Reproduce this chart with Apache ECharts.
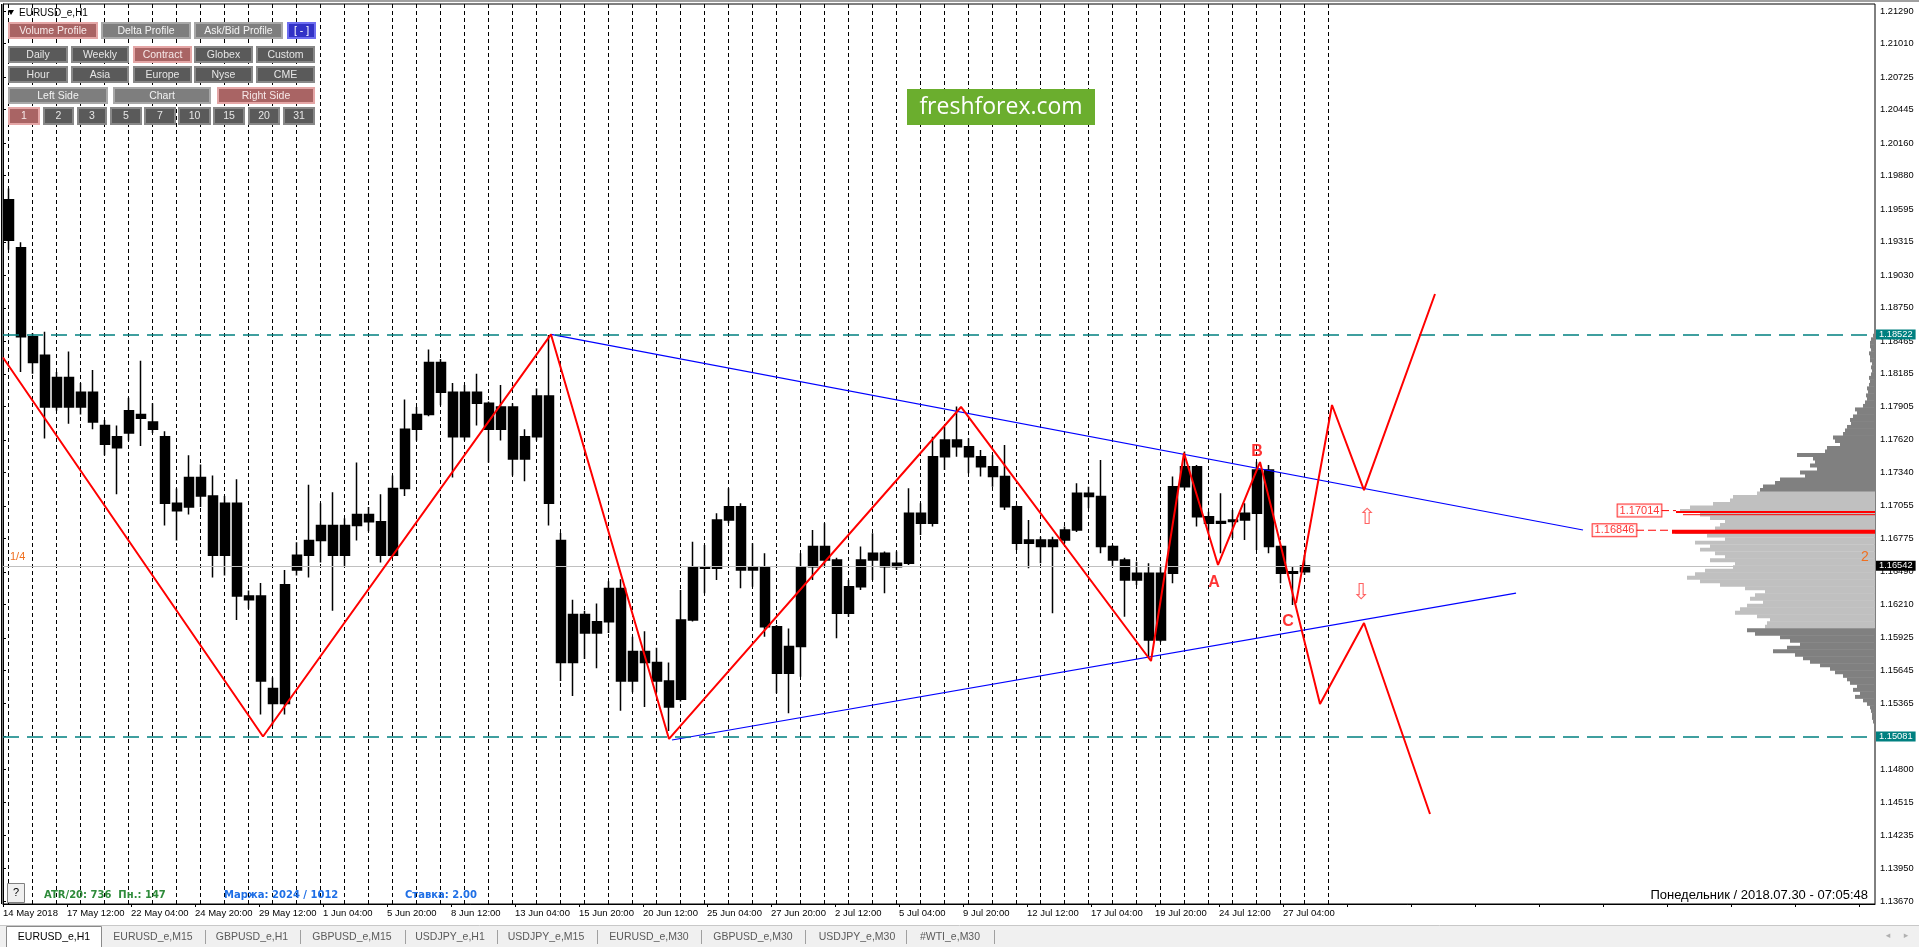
<!DOCTYPE html>
<html><head><meta charset="utf-8">
<script src="https://cdn.jsdelivr.net/npm/echarts@6/dist/echarts.min.js"></script>
<style>html,body{margin:0;padding:0;background:#fff;}#c{width:1919px;height:947px;}</style>
</head><body><div id="c"></div>
<script>
// ---------- DATA ----------
// H1 price, aggregated in groups of 12 bars (one candle per group)
const opens = [1.19675,1.19263,1.18502,1.18344,1.17900,1.18154,1.17900,1.18027,1.17742,1.17552,
1.17678,1.17837,1.17773,1.17647,1.17076,1.17044,1.17298,1.17139,1.16632,1.17076,
1.16283,1.16283,1.15491,1.15364,1.16505,1.16632,1.16759,1.16886,1.16632,1.16886,
1.16981,1.16918,1.16632,1.17203,1.17710,1.17837,1.18281,1.18027,1.17647,1.18027,
1.17932,1.17710,1.17900,1.17456,1.17647,1.17995,1.16759,1.15713,1.16125,1.15967,
1.16062,1.16347,1.15555,1.15808,1.15713,1.15555,1.15400,1.16078,1.16534,1.16520,
1.16934,1.17048,1.16506,1.16534,1.16021,1.15621,1.15850,1.16534,1.16706,1.16591,
1.16135,1.16363,1.16591,1.16648,1.16534,1.16563,1.16991,1.16905,1.17476,1.17619,
1.17561,1.17476,1.17390,1.17305,1.17048,1.16734,1.16763,1.16706,1.16763,1.16848,
1.17162,1.17134,1.16706,1.16591,1.16420,1.16477,1.15907,1.16477,1.17219,1.17390,
1.16962,1.16905,1.16920,1.16934,1.16991,1.17362,1.16706,1.16477,1.16490];
const closes = [1.19327,1.18502,1.18281,1.17900,1.18154,1.17900,1.18027,1.17773,1.17583,1.17647,
1.17869,1.17805,1.17710,1.17076,1.17013,1.17298,1.17139,1.16632,1.17076,1.16283,
1.16252,1.15555,1.15364,1.16379,1.16632,1.16759,1.16886,1.16632,1.16886,1.16981,
1.16918,1.16632,1.17203,1.17710,1.17837,1.18281,1.18027,1.17647,1.18027,1.17932,
1.17710,1.17900,1.17456,1.17647,1.17995,1.17076,1.15713,1.16125,1.15967,1.16062,
1.16347,1.15555,1.15808,1.15713,1.15555,1.15333,1.16078,1.16534,1.16520,1.16934,
1.17048,1.16506,1.16534,1.16021,1.15621,1.15850,1.16534,1.16706,1.16591,1.16135,
1.16363,1.16591,1.16648,1.16534,1.16563,1.16991,1.16905,1.17476,1.17619,1.17561,
1.17476,1.17390,1.17305,1.17048,1.16734,1.16763,1.16706,1.16763,1.16848,1.17162,
1.17134,1.16706,1.16591,1.16420,1.16477,1.15907,1.16477,1.17219,1.17390,1.16962,
1.16905,1.16920,1.16934,1.16991,1.17362,1.16706,1.16477,1.16490,1.16542];
const lows = [1.19247,1.18201,1.18186,1.17631,1.17869,1.17758,1.17837,1.17710,1.17488,1.17155,
1.17615,1.17567,1.17678,1.16886,1.16759,1.16981,1.17044,1.16442,1.16458,1.16077,
1.16173,1.15269,1.15174,1.15269,1.16458,1.16442,1.16569,1.16157,1.16537,1.16759,
1.16838,1.16569,1.16616,1.17139,1.17615,1.17821,1.17916,1.17298,1.17615,1.17742,
1.17425,1.17615,1.17314,1.17266,1.17615,1.16886,1.15555,1.15428,1.15745,1.15665,
1.15967,1.15301,1.15459,1.15333,1.15459,1.15127,1.15380,1.16064,1.16306,1.16420,
1.16905,1.16349,1.16363,1.15935,1.15450,1.15279,1.15593,1.16420,1.16534,1.15921,
1.16106,1.16335,1.16420,1.16306,1.16506,1.16549,1.16805,1.16877,1.17362,1.17476,
1.17333,1.17305,1.17219,1.17019,1.16677,1.16520,1.16563,1.16135,1.16734,1.16830,
1.17034,1.16648,1.16534,1.16106,1.16377,1.15750,1.15890,1.16392,1.17191,1.16877,
1.16820,1.16648,1.16777,1.16763,1.16677,1.16648,1.16392,1.16206,1.16463];
const highs = [1.19770,1.19311,1.18534,1.18544,1.18201,1.18376,1.18106,1.18217,1.17789,1.17742,
1.17979,1.18296,1.17932,1.17694,1.17203,1.17488,1.17409,1.17314,1.17139,1.17282,
1.16331,1.16394,1.15586,1.16505,1.16743,1.17235,1.17076,1.17171,1.16949,1.17425,
1.17044,1.17155,1.17314,1.17964,1.17900,1.18392,1.18312,1.18106,1.18090,1.18186,
1.17948,1.18090,1.17932,1.17710,1.18059,1.18518,1.16822,1.16252,1.16157,1.16220,
1.16410,1.16426,1.15935,1.15982,1.15840,1.15713,1.16335,1.16748,1.16720,1.16991,
1.17205,1.17076,1.16734,1.16648,1.16035,1.16006,1.16648,1.16848,1.16905,1.16610,
1.16420,1.16706,1.16820,1.16663,1.16663,1.17205,1.17076,1.17647,1.17733,1.17904,
1.17633,1.17533,1.17490,1.17576,1.17060,1.16934,1.16791,1.16791,1.16877,1.17248,
1.17219,1.17447,1.16720,1.16610,1.16577,1.16563,1.16534,1.17305,1.17519,1.17404,
1.17005,1.17162,1.17019,1.17076,1.17433,1.17404,1.16720,1.16534,1.16634];

const BARS_PER_CANDLE = 12;
const TOTAL_BARS = 1872;            // bars that fit across the chart window
const BARS_PER_LABEL = 64;
const timeLabels = ['14 May 2018','17 May 12:00','22 May 04:00','24 May 20:00','29 May 12:00','1 Jun 04:00',
 '5 Jun 20:00','8 Jun 12:00','13 Jun 04:00','15 Jun 20:00','20 Jun 12:00','25 Jun 04:00','27 Jun 20:00',
 '2 Jul 12:00','5 Jul 04:00','9 Jul 20:00','12 Jul 12:00','17 Jul 04:00','19 Jul 20:00','24 Jul 12:00','27 Jul 04:00'];
const priceTicks = [1.21290,1.21010,1.20725,1.20445,1.20160,1.19880,1.19595,1.19315,1.19030,1.18750,
 1.18465,1.18185,1.17905,1.17620,1.17340,1.17055,1.16775,1.16490,1.16210,1.15925,1.15645,1.15365,
 1.15085,1.14800,1.14515,1.14235,1.13950,1.13670];

// wave zigzag (bar index, price)
const zigzagBars   = [0, 260, 548, 666, 958, 1148, 1181, 1215, 1257, 1317, 1361, 1427];
const zigzagPrices = [1.18324,1.15081,1.18522,1.15060,1.17901,1.15727,1.17507,1.16549,1.17430,1.15359,1.16052,1.14417];
const bullBars   = [1293, 1329, 1361, 1432];
const bullPrices = [1.16222,1.17918,1.17190,1.18868];
const upperTrendBars = [548, 1580];   const upperTrendPrices = [1.18522, 1.16848];
const lowerTrendBars = [669, 1513];   const lowerTrendPrices = [1.15051, 1.16308];
const waveNames = ['A','B','C'];   const waveBars = [1211,1254,1285];  const wavePrices = [1.16394,1.17518,1.16063];
const arrowGlyphs = ['⇧','⇩'];     const arrowBars = [1364,1358];      const arrowPrices = [1.16951,1.16309];

const levelHigh = 1.18522, levelLow = 1.15081, lastPrice = 1.16542;
const pocPrice = 1.16846, secondPrice = 1.17014;

// volume profile (top bin price, bin step, volumes from top to bottom)
const profileTop = 1.1851, profileStep = 0.0003;
const profileVolumes = [2,4,5,5,4,6,5,5,3,4, 3,4,6,5,6,8,7,9,8,10, 12,20,18,22,25,24,28,30,32,42,
 40,35,48,50,78,62,60,65,58,75, 70,95,100,112,115,118,142,145,162,185, 195,175,165,150,155,160,200,168,150,180,
 165,175,160,150,165,140,142,170,180,188, 175,155,130,110,120,125,112,128,135,140,
 118,105,108,110,128,120,95,85,75,88, 102,80,72,65,55,45,40,32,28,25, 18,22,15,20,12,8,5,4,3,3, 2];
const valueAreaHigh = 1.17165, valueAreaLow = 1.15995;

// ---------- CHART ----------
const FONT = 'Liberation Sans, Arial, sans-serif';
const chart = echarts.init(document.getElementById('c'));
const nCats = TOTAL_BARS / BARS_PER_CANDLE;
const cats = Array.from({length: nCats}, (_, i) => String(i));
const candleData = opens.map((o, i) => [o, closes[i], lows[i], highs[i]]);
const pairs = (xs, ys) => xs.map((x, i) => [x, ys[i]]);
const profileData = profileVolumes.map((v, i) => [v, +(profileTop - i * profileStep).toFixed(4)]);

function button(x, y, w, h, label, kind) {
  const pal = {pink:['#a96464','#e4a6a6','#f6e8e8'], light:['#7e7e7e','#a8a8a8','#f2f2f2'],
               dark:['#5a5a5a','#888888','#e6e6e6'], blue:['#3232c6','#6e6ef0','#ffffff']}[kind];
  return [
    {type:'rect', z:100, shape:{x:x+1, y:y+1, width:w-2, height:h-2}, style:{fill:pal[0], stroke:pal[1], lineWidth:2}},
    {type:'text', z:101, x:x+w/2, y:y+h/2+0.5, style:{text:label, fill:pal[2], fontSize:10.5, fontFamily:FONT, align:'center', verticalAlign:'middle'}}
  ];
}
const g = [];
g.push({type:'rect', z:99, shape:{x:0,y:0,width:1919,height:2}, style:{fill:'#a0a0a0'}});
g.push({type:'line', z:99, shape:{x1:1.5,y1:4,x2:1.5,y2:904}, style:{stroke:'#000',lineWidth:1}});
g.push({type:'polygon', z:100, shape:{points:[[8,10],[14,10],[11,15]]}, style:{fill:'#000'}});
g.push({type:'text', z:100, x:19, y:13, style:{text:'EURUSD_e,H1', fill:'#000', fontSize:10, fontFamily:FONT, verticalAlign:'middle'}});
[[8,90,'Volume Profile','pink'],[101,90,'Delta Profile','light'],[194,89,'Ask/Bid Profile','light'],[287,29,'[ - ]','blue']]
  .forEach(b => g.push(...button(b[0],22,b[1],17,b[2],b[3])));
[[8,60,'Daily','dark'],[71,58,'Weekly','dark'],[133,59,'Contract','pink'],[194,59,'Globex','dark'],[256,59,'Custom','dark']]
  .forEach(b => g.push(...button(b[0],46,b[1],17,b[2],b[3])));
[[8,60,'Hour'],[71,58,'Asia'],[133,59,'Europe'],[194,59,'Nyse'],[256,59,'CME']]
  .forEach(b => g.push(...button(b[0],66,b[1],17,b[2],'dark')));
[[8,100,'Left Side','light'],[113,98,'Chart','light'],[217,98,'Right Side','pink']]
  .forEach(b => g.push(...button(b[0],87,b[1],17,b[2],b[3])));
[[8,32,'1','pink'],[43,31,'2','dark'],[77,30,'3','dark'],[110,32,'5','dark'],[144,32,'7','dark'],
 [178,33,'10','dark'],[213,32,'15','dark'],[248,32,'20','dark'],[283,32,'31','dark']]
  .forEach(b => g.push(...button(b[0],107,b[1],18,b[2],b[3])));
// logo
g.push({type:'rect', z:100, shape:{x:907,y:89,width:188,height:36}, style:{fill:'#6bae2e'}});
g.push({type:'text', z:101, x:1001, y:107, style:{text:'freshforex.com', fill:'#fff', fontSize:23, fontFamily:'Open Sans, Liberation Sans, sans-serif', align:'center', verticalAlign:'middle'}});
// markers on edges
g.push({type:'text', z:100, x:10, y:557, style:{text:'1/4', fill:'#f07020', fontSize:11, fontFamily:FONT, verticalAlign:'middle'}});
g.push({type:'text', z:100, x:1865, y:557, style:{text:'2', fill:'#f07020', fontSize:14, fontFamily:FONT, align:'center', verticalAlign:'middle'}});
// status line
g.push({type:'rect', z:100, shape:{x:7.5,y:883.5,width:17,height:19}, style:{fill:'#f0f0f0', stroke:'#808080', lineWidth:1}});
g.push({type:'text', z:101, x:16, y:893, style:{text:'?', fill:'#000', fontSize:11, fontFamily:FONT, align:'center', verticalAlign:'middle'}});
g.push({type:'text', z:100, x:44, y:895, style:{text:'ATR/20: 736  Пн.: 147', fill:'#2e8b3a', fontSize:10, fontWeight:'bold', fontFamily:'DejaVu Sans, sans-serif', verticalAlign:'middle'}});
g.push({type:'text', z:100, x:224, y:895, style:{text:'Маржа: 2024 / 1012', fill:'#1f6fe6', fontSize:10, fontWeight:'bold', fontFamily:'DejaVu Sans, sans-serif', verticalAlign:'middle'}});
g.push({type:'text', z:100, x:405, y:895, style:{text:'Ставка: 2.00', fill:'#1f6fe6', fontSize:10, fontWeight:'bold', fontFamily:'DejaVu Sans, sans-serif', verticalAlign:'middle'}});
g.push({type:'text', z:100, x:1868, y:895, style:{text:'Понедельник / 2018.07.30 - 07:05:48', fill:'#000', fontSize:13, fontFamily:FONT, align:'right', verticalAlign:'middle'}});
// tab bar
g.push({type:'rect', z:99, shape:{x:0,y:926,width:1919,height:21}, style:{fill:'#f0f0f0'}});
g.push({type:'line', z:99, shape:{x1:0,y1:925.5,x2:1919,y2:925.5}, style:{stroke:'#c8c8c8',lineWidth:1}});
g.push({type:'rect', z:100, shape:{x:6.5,y:926.5,width:95,height:21}, style:{fill:'#fff', stroke:'#8a8a8a', lineWidth:1}});
[['EURUSD_e,H1',54,'#000'],['EURUSD_e,M15',153],['GBPUSD_e,H1',252],['GBPUSD_e,M15',352],['USDJPY_e,H1',450],
 ['USDJPY_e,M15',546],['EURUSD_e,M30',649],['GBPUSD_e,M30',753],['USDJPY_e,M30',857],['#WTI_e,M30',950]]
 .forEach(t => g.push({type:'text', z:101, x:t[1], y:937, style:{text:t[0], fill:t[2]||'#5a5a5a', fontSize:10.5, fontFamily:FONT, align:'center', verticalAlign:'middle'}}));
[205,300,405,497,597,701,805,906,994].forEach(x => g.push({type:'line', z:100, shape:{x1:x+0.5,y1:930,x2:x+0.5,y2:944}, style:{stroke:'#a0a0a0',lineWidth:1}}));
g.push({type:'text', z:100, x:1888, y:936, style:{text:'◂', fill:'#b0b0b0', fontSize:9, fontFamily:'DejaVu Sans', align:'center', verticalAlign:'middle'}});
g.push({type:'text', z:100, x:1906, y:936, style:{text:'▸', fill:'#b0b0b0', fontSize:9, fontFamily:'DejaVu Sans', align:'center', verticalAlign:'middle'}});

const yMin = 1.136471, yMax = 1.213499;
const mlLabel = (bg) => ({show:true, position:'end', distance:1, color:'#fff', backgroundColor:bg, padding:[1,3,0,3],
  fontSize:9.3, fontFamily:FONT, formatter: p => Number(p.value).toFixed(5)});

const option = {
  animation:false,
  backgroundColor:'#fff',
  graphic:{elements:g},
  grid:[
    {left:3, top:4, width:1872, height:900, show:true, borderColor:'#000', borderWidth:1, backgroundColor:'#fff'},
    {left:8.6, top:4, width:1320, height:900, show:false}
  ],
  xAxis:[
    {type:'category', gridIndex:0, data:cats, show:false, boundaryGap:true},
    {type:'value', gridIndex:0, min:0, max:TOTAL_BARS, interval:BARS_PER_LABEL, position:'bottom',
     axisLine:{show:true, lineStyle:{color:'#000'}}, axisTick:{show:true, length:3, lineStyle:{color:'#000'}},
     splitLine:{show:false},
     axisLabel:{show:true, margin:4, align:'left', color:'#000', fontSize:9.5, fontFamily:FONT, showMaxLabel:false,
       formatter: v => (v % BARS_PER_LABEL === 0 ? (timeLabels[v / BARS_PER_LABEL] || '') : '')}},
    {type:'value', gridIndex:1, min:0, max:1320, interval:24,
     axisLine:{show:false}, axisTick:{show:false}, axisLabel:{show:false},
     splitLine:{show:true, lineStyle:{color:'#000', type:[4,3], width:1}}}
  ],
  yAxis:[
    {type:'value', gridIndex:0, position:'right', min:yMin, max:yMax, scale:true,
     axisLine:{show:true, lineStyle:{color:'#000'}},
     axisTick:{show:true, length:3, customValues:priceTicks, lineStyle:{color:'#000'}},
     splitLine:{show:false},
     axisLabel:{show:true, margin:5, color:'#000', fontSize:9.3, fontFamily:FONT, customValues:priceTicks,
       formatter: v => (Math.round(v * 20000) / 20000).toFixed(5)}},
    {type:'value', gridIndex:1, show:false, min:0, max:1}
  ],
  series:[
    {type:'custom', name:'profile', xAxisIndex:1, yAxisIndex:0, z:2, silent:true,
     data:profileData, encode:{x:0, y:1},
     renderItem:(params, api) => {
       const vol = api.value(0), p = api.value(1);
       const a = api.coord([TOTAL_BARS - vol, p + profileStep / 2 + 0.00002]);
       const b = api.coord([TOTAL_BARS, p - profileStep / 2 - 0.00002]);
       const inVA = p <= valueAreaHigh && p >= valueAreaLow;
       return {type:'rect', shape:{x:a[0], y:a[1], width:b[0]-a[0], height:b[1]-a[1]},
               style:{fill: inVA ? '#c0c0c0' : '#808080'}};
     }},
    {type:'candlestick', name:'EURUSD', xAxisIndex:0, yAxisIndex:0, z:3, barWidth:9,
     itemStyle:{color:'#000', color0:'#000', borderColor:'#000', borderColor0:'#000', borderWidth:1.5},
     data:candleData,
     markLine:{silent:true, symbol:['none','none'], animation:false, precision:5,
       data:[
         {yAxis:lastPrice, lineStyle:{color:'#c0c0c0', type:'solid', width:1}, label:mlLabel('#000')},
         {yAxis:levelHigh, lineStyle:{color:'#008080', type:[16,8], width:1.5}, label:mlLabel('#008080')},
         {yAxis:levelLow, lineStyle:{color:'#008080', type:[16,8], width:1.5}, label:mlLabel('#008080')}
       ]}},
    {type:'line', xAxisIndex:1, yAxisIndex:0, z:4, symbol:'none', silent:true,
     data:pairs(upperTrendBars, upperTrendPrices), lineStyle:{color:'#0000ff', width:1.2}},
    {type:'line', xAxisIndex:1, yAxisIndex:0, z:4, symbol:'none', silent:true,
     data:pairs(lowerTrendBars, lowerTrendPrices), lineStyle:{color:'#0000ff', width:1.2}},
    {type:'line', xAxisIndex:1, yAxisIndex:0, z:5, symbol:'none', silent:true,
     data:pairs(zigzagBars, zigzagPrices), lineStyle:{color:'#ff0000', width:2}},
    {type:'line', xAxisIndex:1, yAxisIndex:0, z:5, symbol:'none', silent:true,
     data:pairs(bullBars, bullPrices), lineStyle:{color:'#ff0000', width:2}},
    // profile key levels
    {type:'line', xAxisIndex:1, yAxisIndex:0, z:6, symbol:'none', silent:true,
     data:[[TOTAL_BARS-203, pocPrice-0.00012],[TOTAL_BARS, pocPrice-0.00012]], lineStyle:{color:'#ff0000', width:4}},
    {type:'line', xAxisIndex:1, yAxisIndex:0, z:6, symbol:'none', silent:true,
     data:[[1633, pocPrice],[TOTAL_BARS-203, pocPrice]], lineStyle:{color:'#ff0000', width:1, type:[8,4]}},
    {type:'line', xAxisIndex:1, yAxisIndex:0, z:6, symbol:'none', silent:true,
     data:[[TOTAL_BARS-199, secondPrice-0.00012],[TOTAL_BARS, secondPrice-0.00012]], lineStyle:{color:'#ff0000', width:2}},
    {type:'line', xAxisIndex:1, yAxisIndex:0, z:6, symbol:'none', silent:true,
     data:[[TOTAL_BARS-192, secondPrice-0.00035],[TOTAL_BARS, secondPrice-0.00035]], lineStyle:{color:'#ff0000', width:1}},
    {type:'line', xAxisIndex:1, yAxisIndex:0, z:6, symbol:'none', silent:true,
     data:[[1658, secondPrice],[TOTAL_BARS-199, secondPrice]], lineStyle:{color:'#ff0000', width:1, type:[8,4]}},
    {type:'scatter', xAxisIndex:1, yAxisIndex:0, z:7, symbolSize:0, silent:true,
     data:[[1636.5, secondPrice, '1.17014'],[1611.5, pocPrice, '1.16846']],
     label:{show:true, position:'inside', formatter: p => p.value[2], color:'#ff0000', fontSize:11, fontFamily:FONT,
       backgroundColor:'#fff', borderColor:'#ff0000', borderWidth:1, padding:[1,2,0,2]}},
    {type:'scatter', xAxisIndex:1, yAxisIndex:0, z:7, symbolSize:0, silent:true,
     data:waveBars.map((b, i) => [b, wavePrices[i], waveNames[i]]),
     label:{show:true, position:'inside', formatter: p => p.value[2], color:'#ff0000', fontSize:16, fontWeight:'bold', fontFamily:FONT}},
    {type:'scatter', xAxisIndex:1, yAxisIndex:0, z:7, symbolSize:0, silent:true,
     data:arrowBars.map((b, i) => [b, arrowPrices[i], arrowGlyphs[i]]),
     label:{show:true, position:'inside', formatter: p => p.value[2], color:'#ff3b3b', fontSize:22, fontFamily:'DejaVu Sans, sans-serif'}}
  ]
};
chart.setOption(option);
</script></body></html>
